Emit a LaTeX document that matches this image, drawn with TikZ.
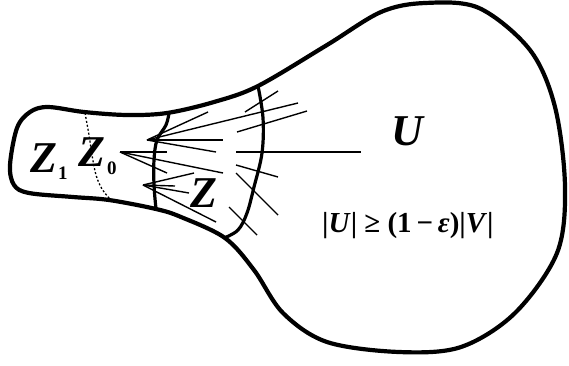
\documentclass[tikz,border=0pt]{standalone}
\usepackage{fontspec}
\setmainfont{Liberation Serif}
\tikzset{
  boundary/.style={line width=4.2pt,line join=round},
  cut/.style={line width=3.2pt,line cap=round},
  ray/.style={line width=1.4pt},
  hidden/.style={line width=1.3pt,dash pattern=on 2pt off 2pt},
  lbl/.style={inner sep=0pt,anchor=base west,font=\bfseries\itshape\fontsize{44}{44}\selectfont},
  sub/.style={inner sep=0pt,anchor=base west,font=\bfseries\fontsize{19}{19}\selectfont}
}
\begin{document}
\begin{tikzpicture}[x=1pt,y=-1pt]
\useasboundingbox (0,0) rectangle (569,365);
% outer region
\draw[boundary] plot[smooth cycle,tension=0.55] coordinates {
  (10,165) (17,128) (30,112) (48,107) (84,112) (127,115) (167,113)
  (214,102) (258,86) (327,45) (381,12) (425,3) (479,8) (530,50)
  (555,107) (565,187) (557,253) (515,313) (461,347) (399,352)
  (327,342) (283,313) (254,270) (225,238) (181,217) (156,209)
  (109,200) (73,197) (29,193) (14,185)};
% cuts
\draw[cut] plot[smooth,tension=0.6] coordinates {(169,113) (166,125) (157,140) (154,160) (154,185) (156,209)};
\draw[cut] plot[smooth,tension=0.6] coordinates {(258,86) (263,118) (262,153) (254,187) (247,213) (238,230) (224,238)};
\draw[hidden] plot[smooth,tension=0.6] coordinates {(85,113) (89,135) (92,155) (96,175) (102,189) (110,199)};
% fans
\coordinate (apex0) at (120,152);
\coordinate (apex1) at (147,140);
\coordinate (apex2) at (143,185);
\foreach \p in {(208,112),(298,103),(223,140),(216,152)} \draw[ray] (apex1) -- \p;
\foreach \p in {(167,152),(167,173),(223,173)} \draw[ray] (apex0) -- \p;
\foreach \p in {(194,173),(175,186),(189,193),(216,222)} \draw[ray] (apex2) -- \p;
\draw[ray] (245,112) -- (278,91);
\draw[ray] (237,132) -- (307,111);
\draw[ray] (236,152) -- (361,152);
\draw[ray] (236,165) -- (278,177);
\draw[ray] (236,173) -- (278,215);
\draw[ray] (229,207) -- (257,235);
% labels
\node[lbl] (z1) at (30,172) {Z};
\node[sub] (z1s) at (58,179) {1};
\node[lbl] (z0) at (78,166) {Z};
\node[sub] (z0s) at (107,174) {0};
\node[lbl] (z) at (190,207) {Z};
\node[lbl] (u) at (391,145) {U};
\node[inner sep=0pt,anchor=base west,font=\bfseries\fontsize{29}{29}\selectfont] (ineq) at (322,232)
  {|\textit{U}| ≥ (1\,−\,\textit{ε})|\textit{V}|};
\end{tikzpicture}
\end{document}
